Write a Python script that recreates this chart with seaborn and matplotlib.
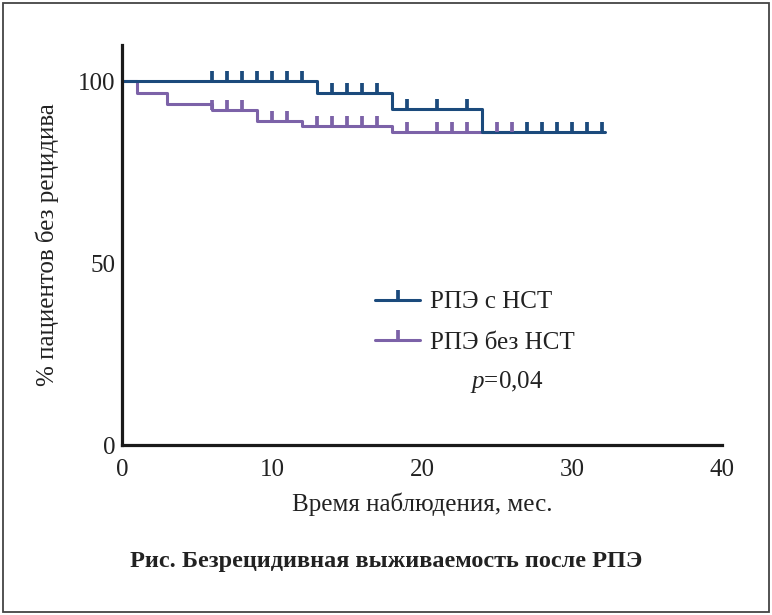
import numpy as np
import pandas as pd
import matplotlib
matplotlib.use("Agg")
import matplotlib.pyplot as plt
from matplotlib.lines import Line2D
from matplotlib.patches import Rectangle
import seaborn as sns

# ==========================================
# DATA
# ==========================================

blue_label = "РПЭ с НСТ"
blue_times = [0, 13, 18, 24, 32.2]
blue_surv = [100, 96.8, 92.5, 86.1, 86.1]
blue_censor = [6, 7, 8, 9, 10, 11, 12, 14, 15, 16, 17, 19, 21, 23,
               27, 28, 29, 30, 31, 32]

purple_label = "РПЭ без НСТ"
purple_times = [0, 1, 3, 6, 9, 12, 18, 26]
purple_surv = [100, 96.9, 93.8, 92.2, 89.1, 87.7, 86.1, 86.1]
purple_censor = [6, 7, 8, 10, 11, 13, 14, 15, 16, 17, 19, 21, 22, 23, 25, 26]

x_ticks = [0, 10, 20, 30, 40]
y_ticks = [0, 50, 100]

x_label = "Время наблюдения, мес."
y_label = "% пациентов без рецидива"
title = "Рис. Безрецидивная выживаемость после РПЭ"
p_text = "$p$=0,04"

BLUE = "#1b4a7c"
PURPLE = "#7c62a8"

# ==========================================
# STYLE
# ==========================================

sns.set_theme(style="white")
plt.rcParams["font.family"] = ["Liberation Serif", "DejaVu Serif"]
plt.rcParams["mathtext.fontset"] = "custom"
plt.rcParams["mathtext.it"] = "Liberation Serif:italic"
plt.rcParams["mathtext.rm"] = "Liberation Serif"

FS = 18


def censor_levels(times, surv, censor):
    idx = np.searchsorted(times, censor, side="right") - 1
    return [surv[i] for i in idx]


fig = plt.figure(figsize=(7.72, 6.15), dpi=100)
ax = fig.add_axes([122 / 772, 1 - 445 / 615, 600 / 772, 400 / 615])

blue_df = pd.DataFrame({"t": blue_times, "s": blue_surv})
purple_df = pd.DataFrame({"t": purple_times, "s": purple_surv})

sns.lineplot(data=purple_df, x="t", y="s", ax=ax, color=PURPLE,
             drawstyle="steps-post", lw=2.2, estimator=None)
sns.lineplot(data=blue_df, x="t", y="s", ax=ax, color=BLUE,
             drawstyle="steps-post", lw=2.2, estimator=None)

ax.plot(purple_censor, censor_levels(purple_times, purple_surv, purple_censor),
        ls="none", marker=2, ms=7, mew=2.7, color=PURPLE)
ax.plot(blue_censor, censor_levels(blue_times, blue_surv, blue_censor),
        ls="none", marker=2, ms=7, mew=2.7, color=BLUE)

# ==========================================
# AXES
# ==========================================

ax.set_xlim(0, 40)
ax.set_ylim(0, 110)
ax.set_xticks(x_ticks)
ax.set_yticks(y_ticks)
ax.tick_params(axis="both", direction="in", length=6, width=1.2,
               colors="#222222", labelsize=FS, labelcolor="#222222")
ax.tick_params(axis="x", pad=10)
ax.tick_params(axis="y", pad=5)

for side in ["top", "right"]:
    ax.spines[side].set_visible(False)
for side in ["left", "bottom"]:
    ax.spines[side].set_linewidth(2.3)
    ax.spines[side].set_color("#1a1a1a")

ax.set_xlabel(x_label, fontsize=FS, color="#222222")
ax.set_ylabel(y_label, fontsize=FS, color="#222222")
ax.xaxis.set_label_coords(0.5, -0.12)
ax.yaxis.set_label_coords(-0.105, 0.5)

# ==========================================
# LEGEND + P VALUE
# ==========================================

handles = [
    Line2D([], [], color=BLUE, lw=2.2, marker=2, ms=7, mew=2.7),
    Line2D([], [], color=PURPLE, lw=2.2, marker=2, ms=7, mew=2.7),
]
ax.legend(handles, [blue_label, purple_label], loc="upper left",
          bbox_to_anchor=(0.4217, 0.385), frameon=False, fontsize=FS,
          numpoints=1, handlelength=1.8, handletextpad=0.4,
          labelspacing=0.72, borderpad=0, borderaxespad=0,
          labelcolor="#222222")

ax.text(0.58, 0.158, p_text, transform=ax.transAxes, fontsize=FS,
        ha="left", va="center", color="#222222")

fig.text(0.5, 1 - 562 / 615, title, ha="center", va="center",
         fontsize=17.5, fontweight="bold", color="#222222")

fig.patches.append(Rectangle((3 / 772, 3 / 615), 766 / 772, 609 / 615,
                             transform=fig.transFigure, fill=False,
                             lw=1.3, edgecolor="#444444"))

fig.savefig("out.png", dpi=100)
plt.close(fig)
